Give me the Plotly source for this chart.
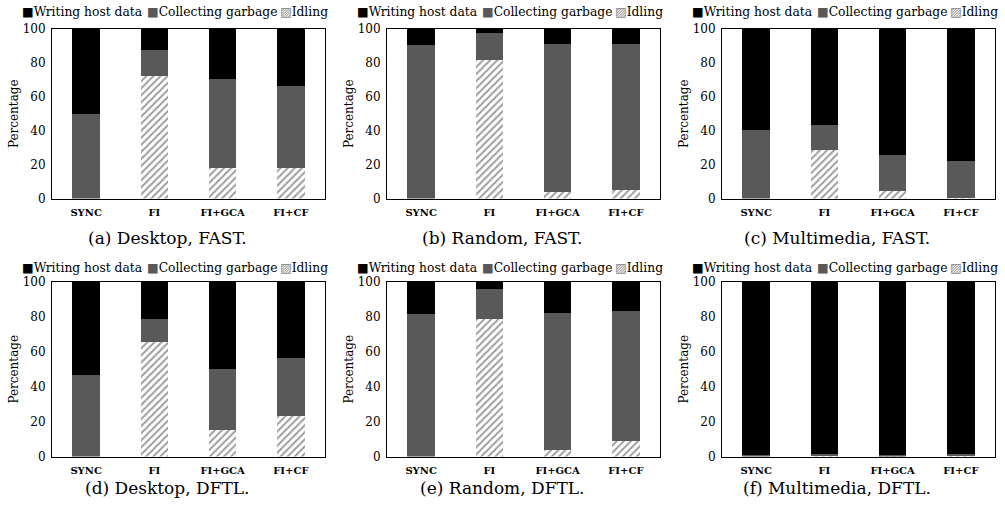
import plotly.graph_objects as go
from plotly.subplots import make_subplots

categories = ["SYNC", "FI", "FI+GCA", "FI+CF"]

desktop_fast_idle = [0, 72.2, 18.1, 17.8]
desktop_fast_gc = [49.7, 15.6, 52.3, 48.5]
desktop_fast_write = [50.3, 12.2, 29.6, 33.7]

random_fast_idle = [0, 81.5, 4.1, 5.1]
random_fast_gc = [90.4, 16.1, 86.9, 85.9]
random_fast_write = [9.6, 2.4, 9.0, 9.0]

multimedia_fast_idle = [0, 28.6, 4.3, 0.4]
multimedia_fast_gc = [40.4, 14.9, 21.2, 21.8]
multimedia_fast_write = [59.6, 56.5, 74.5, 77.8]

desktop_dftl_idle = [0, 65.8, 15.0, 23.1]
desktop_dftl_gc = [46.7, 13.2, 35.4, 33.1]
desktop_dftl_write = [53.3, 21.0, 49.6, 43.8]

random_dftl_idle = [0, 78.9, 3.8, 9.0]
random_dftl_gc = [81.6, 16.9, 78.4, 74.1]
random_dftl_write = [18.4, 4.2, 17.8, 16.9]

multimedia_dftl_idle = [0, 0.3, 0.2, 0.3]
multimedia_dftl_gc = [0.8, 1.2, 0.8, 1.2]
multimedia_dftl_write = [99.2, 98.5, 99.0, 98.5]

captions = ["(a) Desktop, FAST.", "(b) Random, FAST.", "(c) Multimedia, FAST.",
            "(d) Desktop, DFTL.", "(e) Random, DFTL.", "(f) Multimedia, DFTL."]
series_names = ["Writing host data", "Collecting garbage", "Idling"]

panels = [
    (desktop_fast_idle, desktop_fast_gc, desktop_fast_write),
    (random_fast_idle, random_fast_gc, random_fast_write),
    (multimedia_fast_idle, multimedia_fast_gc, multimedia_fast_write),
    (desktop_dftl_idle, desktop_dftl_gc, desktop_dftl_write),
    (random_dftl_idle, random_dftl_gc, random_dftl_write),
    (multimedia_dftl_idle, multimedia_dftl_gc, multimedia_dftl_write),
]

W, H = 1005, 514
GC_COLOR = "#595959"
WRITE_COLOR = "#000000"
HATCH = "#3a3a3a"
FONT = "DejaVu Serif"

fig = make_subplots(rows=2, cols=3)

for i, (idle, gc, write) in enumerate(panels):
    r, c = i // 3 + 1, i % 3 + 1
    fig.add_trace(go.Bar(x=categories, y=idle, name=series_names[2], showlegend=False,
                         marker=dict(color="white", line=dict(width=0),
                                     pattern=dict(shape="/", fgcolor=HATCH, bgcolor="white",
                                                  size=5, solidity=0.4))),
                  row=r, col=c)
    fig.add_trace(go.Bar(x=categories, y=gc, name=series_names[1], showlegend=False,
                         marker=dict(color=GC_COLOR, line=dict(width=0))), row=r, col=c)
    fig.add_trace(go.Bar(x=categories, y=write, name=series_names[0], showlegend=False,
                         marker=dict(color=WRITE_COLOR, line=dict(width=0))), row=r, col=c)

# pixel layout of plot areas
col_starts = [0, 335, 670]
col_px = [(52, 325), (387, 660), (722, 995)]
row_px = [(29, 198.5), (282, 456.5)]
col_centers = [167, 502, 837]
legend_y = [12, 268]
caption_y = [238, 488]
legend_items = [
    ('<span style="color:#000000">■</span>', series_names[0], 20),
    ('<span style="color:#595959">■</span>', series_names[1], 145),
    ('<span style="color:#8a8a8a">▨</span>', series_names[2], 278),
]

annotations = []
for i in range(6):
    r, c = i // 3, i % 3
    idx = "" if i == 0 else str(i + 1)
    x0, x1 = col_px[c]
    y0, y1 = row_px[r]
    fig.layout["xaxis" + idx].update(
        domain=[x0 / W, x1 / W], showline=True, mirror=True, linecolor="black", linewidth=1,
        ticks="", automargin=False, ticklabelstandoff=4,
        tickfont=dict(family=FONT, size=10, color="black", weight="bold"),
        showgrid=False)
    fig.layout["yaxis" + idx].update(
        domain=[1 - y1 / H, 1 - y0 / H], range=[0, 100], dtick=20, showline=True, mirror=True,
        linecolor="black", linewidth=1, ticks="", ticklabelstandoff=3, showgrid=False,
        zeroline=False, automargin=False, tickfont=dict(family=FONT, size=12, color="black"),
        title=dict(text="Percentage", font=dict(family=FONT, size=12, color="black"), standoff=1))
    for icon, name, off in legend_items:
        annotations.append(dict(text=icon + name, xref="paper", yref="paper",
                                x=(col_starts[c] + off) / W, y=1 - legend_y[r] / H,
                                xanchor="left", yanchor="middle", showarrow=False,
                                font=dict(family=FONT, size=12.3, color="black")))
    annotations.append(dict(text=captions[i], xref="paper", yref="paper",
                            x=col_centers[c] / W, y=1 - caption_y[r] / H,
                            xanchor="center", yanchor="middle", showarrow=False,
                            font=dict(family=FONT, size=17, color="black")))

fig.update_layout(width=W, height=H, margin=dict(l=0, r=0, t=0, b=0), barmode="stack",
                  bargap=0.6, plot_bgcolor="white", paper_bgcolor="white",
                  annotations=annotations, font=dict(family=FONT, color="black"))

fig.write_html("out.html", config={"displayModeBar": False},
               post_script="document.body.style.margin='0px';document.body.style.overflow='hidden';")
